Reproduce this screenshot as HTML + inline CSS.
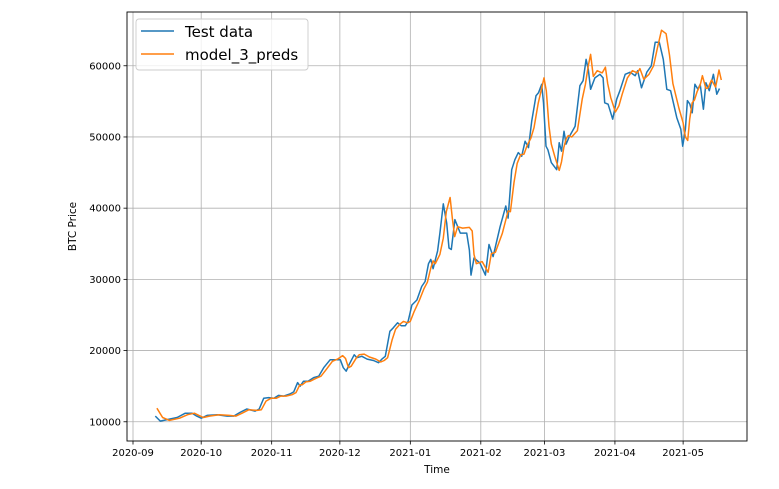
<!DOCTYPE html>
<html><head><meta charset="utf-8"><style>
html,body{margin:0;padding:0;background:#fff;}
svg{display:block;font-family:"DejaVu Sans","Liberation Sans",sans-serif;}
</style></head><body>
<svg id="chart" width="779" height="489" viewBox="0 0 779 489">
<rect x="0" y="0" width="779" height="489" fill="#fff"/>
<g id="grid"></g>
<g id="series"></g>
<rect x="127" y="12" width="620" height="429" fill="none" stroke="#000" stroke-width="0.9"/>
<g id="ticks"></g>
<text x="437" y="473" font-size="10.5" text-anchor="middle">Time</text>
<text transform="translate(76,226.5) rotate(-90)" font-size="10.5" text-anchor="middle">BTC Price</text>
<g>
<rect x="136" y="19" width="172" height="51" rx="3" fill="#fff" fill-opacity="0.8" stroke="#ccc" stroke-width="0.9"/>
<line x1="141" y1="31" x2="174" y2="31" stroke="#1f77b4" stroke-width="1.6"/>
<text x="185" y="37" font-size="15">Test data</text>
<line x1="141" y1="54" x2="174" y2="54" stroke="#ff7f0e" stroke-width="1.6"/>
<text x="185" y="60" font-size="15">model_3_preds</text>
</g>
</svg>
<script>
// days since 2020-09-01, values in thousands USD
const testDays = [9.8,12,15,19.4,23,26,28,30,32.6,37,41.4,44.3,47,50,53.7,55.5,57.5,59.7,62,64,66.3,69,70.7,72.4,73.5,75,77,79.5,81.7,83.9,86.7,89,91.2,92.5,93.8,95,97.3,98.5,100.7,103,105.8,108,109.5,111,113,114.5,116.4,118,119.8,121,122.7,124.9,127,128.5,130,131,132,134,135,136.5,138,139,140,141.6,144,146.8,148,148.7,150,152.6,155,156.6,158.4,161.5,164,165,166.6,168,169.5,171,172.5,174,175.4,177.3,178.4,179.8,180.6,181.7,182.5,184,186.4,187.5,188.5,189.6,190.5,192,194.5,196.6,198,199.3,200.3,201.3,203.2,205.4,206.8,207.5,209,211,212.8,214.2,216.5,218.7,220.9,222,223.7,226,228,229.7,231.5,233.3,234.8,236.5,239.2,241,241.8,243,243.9,245,246,247.2,248.5,249.5,250.9,252,253.5,255.3,256.8,258];
const testVals = [10.8,10.1,10.3,10.6,11.2,11.2,10.8,10.5,10.9,11.0,10.8,10.8,11.3,11.8,11.5,11.8,13.3,13.4,13.3,13.7,13.6,13.9,14.2,15.5,15.0,15.7,15.7,16.2,16.4,17.6,18.7,18.7,18.7,17.6,17.1,18.0,19.4,19.0,19.2,18.8,18.6,18.3,18.8,19.2,22.7,23.2,23.9,23.5,23.5,24.1,26.4,27.1,29.0,29.7,32.2,32.8,31.5,34.0,36.5,40.6,37.9,34.4,34.2,38.4,36.5,36.5,34.1,30.6,33.0,32.3,30.6,34.9,33.2,37.4,40.3,38.6,45.4,46.8,47.8,47.3,49.4,48.5,52.2,55.8,56.2,57.4,54.8,48.7,48.2,46.4,45.4,49.2,48.0,50.8,49.0,50.1,51.5,57.2,57.9,60.9,59.5,56.7,58.3,58.8,58.3,54.8,54.6,52.5,55.3,56.5,58.8,59.1,58.6,59.3,56.9,59.1,60.0,63.3,63.3,60.9,56.7,56.5,52.7,51.1,48.7,51.1,55.1,54.6,53.4,57.4,56.7,57.4,53.9,57.6,56.5,58.8,56.0,56.8];
const predDays = [10.5,13,16,20.5,24,27,29,31,33.6,38,42.4,45.3,48,51,54.7,56.5,58.5,60.7,63,65,67.3,70,71.7,73.4,74.5,76,78,80.5,82.7,84.9,87.7,90,92.2,93.5,94.8,96,98.3,99.5,101.7,104,106.8,109,110.5,112,114,115.5,117.4,119,120.8,122,123.7,125.9,128,129.5,131,132,133,135,136.5,137.8,139.5,140.5,141.5,142.8,145,148,149.2,150,151,153.6,156.2,157.6,159.4,162.5,165,166,167.6,169,170.5,172,173.5,175,176.4,178.3,179.4,180.8,181.8,183,184,185.5,187.5,188.5,189.5,190.6,191.5,193,195.5,197.6,199,200.3,201.3,202.5,204.2,206.4,207.8,208.8,210.2,212.2,213.8,215.2,217.5,219.7,221.9,223,224.7,227,229,230.7,232.5,234.5,236,237.5,240.2,242,243,244,244.9,246,247,248.2,249.5,250.5,252,253,254.5,256.3,257.8,258.8];
const predVals = [11.9,10.6,10.2,10.5,11.0,11.2,10.9,10.6,10.8,11.0,10.9,10.8,11.2,11.7,11.6,11.7,12.9,13.3,13.3,13.6,13.6,13.8,14.1,15.2,15.2,15.6,15.7,16.1,16.4,17.3,18.5,18.8,19.3,18.9,17.6,17.8,19.0,19.4,19.5,19.1,18.8,18.4,18.6,19.0,21.5,23.0,23.7,24.1,23.9,24.1,25.5,27.0,28.7,29.6,31.6,32.6,32.2,33.5,35.8,39.5,41.5,38.5,36.0,37.4,37.2,37.3,36.8,33.5,32.2,32.5,31.0,33.6,33.8,36.5,39.6,39.5,43.6,46.3,47.5,47.6,48.9,49.8,51.3,54.8,56.3,58.3,56.5,51.5,49.0,47.3,45.3,46.5,48.5,49.8,50.2,50.0,50.9,55.3,57.4,60.0,61.6,58.5,59.3,59.0,59.8,57.5,55.5,53.5,54.4,56.0,58.3,59.3,59.0,59.6,58.1,58.8,60.0,62.5,65.0,64.5,61.5,57.5,54.0,52.0,50.0,49.5,52.5,54.8,55.2,56.4,57.3,58.6,56.8,56.9,58.0,57.0,59.4,58.0];
const yTickVals = [10000,20000,30000,40000,50000,60000];
const xTickDays = [0,30,61,91,122,153,181,212,242];
const xTickLabels = ["2020-09","2020-10","2020-11","2020-12","2021-01","2021-02","2021-03","2021-04","2021-05"];

const NS = "http://www.w3.org/2000/svg";
const X0 = 127, X1 = 747, Y0 = 12, Y1 = 441;
const dMin = -2.64, dMax = 270.1, vMin = 7.3, vMax = 67.55;
function xs(d){ return X0 + (d - dMin) / (dMax - dMin) * (X1 - X0); }
function ys(v){ return Y1 - (v - vMin) / (vMax - vMin) * (Y1 - Y0); }
function mk(tag, attrs, parent){ const e = document.createElementNS(NS, tag); for (const k in attrs) e.setAttribute(k, attrs[k]); parent.appendChild(e); return e; }

const grid = document.getElementById('grid');
const ticks = document.getElementById('ticks');
yTickVals.forEach(function(v){
  const y = ys(v / 1000);
  const g = mk('line', {x1: X0, x2: X1, y1: y, y2: y, stroke: '#b0b0b0', 'stroke-width': 0.8}, grid);
  
  
  const t = mk('line', {x1: X0 - 3.5, x2: X0, y1: y, y2: y, stroke: '#000', 'stroke-width': 0.8}, ticks);
  
  
  const l = mk('text', {x: X0 - 6, y: y + 3.5, 'font-size': 10, 'text-anchor': 'end'}, ticks);
  l.textContent = String(v);
  
  
});
xTickDays.forEach(function(d, i){
  const x = xs(d);
  const g = mk('line', {x1: x, x2: x, y1: Y0, y2: Y1, stroke: '#b0b0b0', 'stroke-width': 0.8}, grid);
  
  
  const t = mk('line', {x1: x, x2: x, y1: Y1, y2: Y1 + 3.5, stroke: '#000', 'stroke-width': 0.8}, ticks);
  
  
  const l = mk('text', {x: x, y: Y1 + 15, 'font-size': 10, 'text-anchor': 'middle'}, ticks);
  l.textContent = xTickLabels[i];
  
  
});
const series = document.getElementById('series');
function pts(ds, vs){ return ds.map(function(d, i){ return xs(d).toFixed(1) + ',' + ys(vs[i]).toFixed(1); }).join(' '); }
const tl = mk('polyline', {points: pts(testDays, testVals), fill: 'none', stroke: '#1f77b4', 'stroke-width': 1.5, 'stroke-linejoin': 'round'}, series);


const pl = mk('polyline', {points: pts(predDays, predVals), fill: 'none', stroke: '#ff7f0e', 'stroke-width': 1.5, 'stroke-linejoin': 'round'}, series);


</script>
</body></html>
